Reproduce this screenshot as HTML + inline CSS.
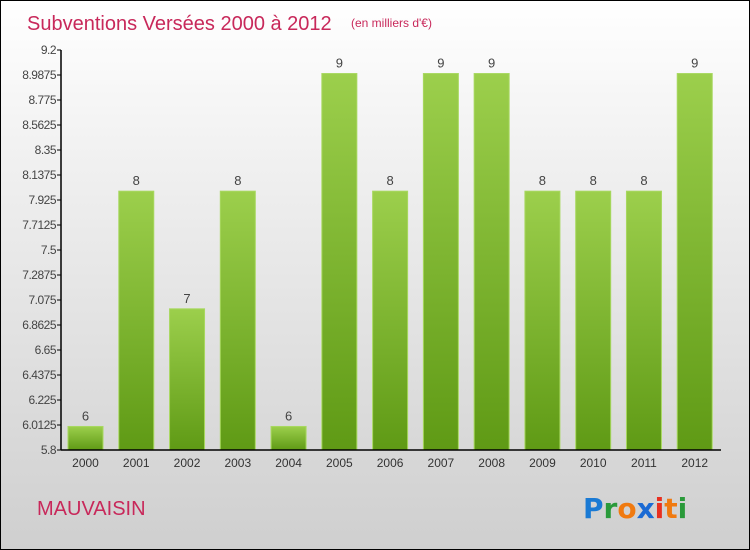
<!DOCTYPE html>
<html><head><meta charset="utf-8"><style>
body{margin:0;}
#wrap{position:relative;width:748px;height:548px;border:1px solid #000;background:linear-gradient(#ffffff,#f0f0f0 30%,#cfcfcf);font-family:"Liberation Sans",sans-serif;overflow:hidden}
</style></head><body>
<div id="wrap">
<svg id="chart" width="748" height="548">
<defs><linearGradient id="g" x1="0" y1="0" x2="0" y2="1"><stop offset="0" stop-color="#9ccf4c"/><stop offset="1" stop-color="#5f9a15"/></linearGradient></defs>
<text x="26" y="29" font-size="20" fill="#c8285a">Subventions Versées 2000 à 2012</text>
<text x="350" y="26" font-size="12" fill="#c8285a">(en milliers d'€)</text>
<text x="36" y="514" font-size="20" fill="#c8285a">MAUVAISIN</text>
<g font-size="28" font-weight="bold" font-family="'DejaVu Sans',sans-serif">
<text x="582" y="517"><tspan fill="#1a7ad4">P</tspan><tspan fill="#2a9a3a">r</tspan><tspan fill="#f07a10">o</tspan><tspan fill="#1a6ad4">x</tspan><tspan fill="#e83020">i</tspan><tspan fill="#f07a10">t</tspan><tspan fill="#2a9a3a">i</tspan></text></g>
<g id="plot"></g>
</svg></div>
<script>
const categories=["2000","2001","2002","2003","2004","2005","2006","2007","2008","2009","2010","2011","2012"];
const values=[6,8,7,8,6,9,8,9,9,8,8,8,9];
const tickLabels=["9.2","8.9875","8.775","8.5625","8.35","8.1375","7.925","7.7125","7.5","7.2875","7.075","6.8625","6.65","6.4375","6.225","6.0125","5.8"];
const yMin=5.8,yMax=9.2,plotTop=49,plotBot=449,plotLeft=60,plotRight=720;
const yScale=v=>plotBot-(v-yMin)/(yMax-yMin)*(plotBot-plotTop);
const band=(plotRight-plotLeft)/categories.length;
const xScale=i=>plotLeft+i*band;
const ns="http://www.w3.org/2000/svg",g=document.getElementById('plot');
function mk(t,a){const e=document.createElementNS(ns,t);for(const k in a)e.setAttribute(k,a[k]);g.appendChild(e);return e;}
values.forEach((v,i)=>{
 const r=mk('rect',{x:xScale(i)+7,y:yScale(v),width:35,height:plotBot-yScale(v),fill:'url(#g)',stroke:'#a8d860','stroke-width':1});
 
 
 const t=mk('text',{x:xScale(i)+24.5,y:yScale(v)-6,'font-size':13,fill:'#444','text-anchor':'middle'});t.textContent=v;
 
 
 const c=mk('text',{x:xScale(i)+24.5,y:plotBot+17,'font-size':12,fill:'#333','text-anchor':'middle'});c.textContent=categories[i];
 
 
});
tickLabels.forEach(s=>{
 const v=parseFloat(s);
 mk('line',{x1:plotLeft-4,x2:plotLeft,y1:yScale(v),y2:yScale(v),stroke:'#000'});
 const t=mk('text',{x:plotLeft-5,y:yScale(v)+4,'font-size':12,fill:'#444','text-anchor':'end','letter-spacing':'-0.5'});t.textContent=s;
 
 
});
const ya=mk('line',{x1:plotLeft,x2:plotLeft,y1:plotTop,y2:plotBot,stroke:'#000','stroke-width':1.5});


const xa=mk('line',{x1:plotLeft,x2:plotRight,y1:plotBot,y2:plotBot,stroke:'#000','stroke-width':1.5});


</script>
</body></html>
